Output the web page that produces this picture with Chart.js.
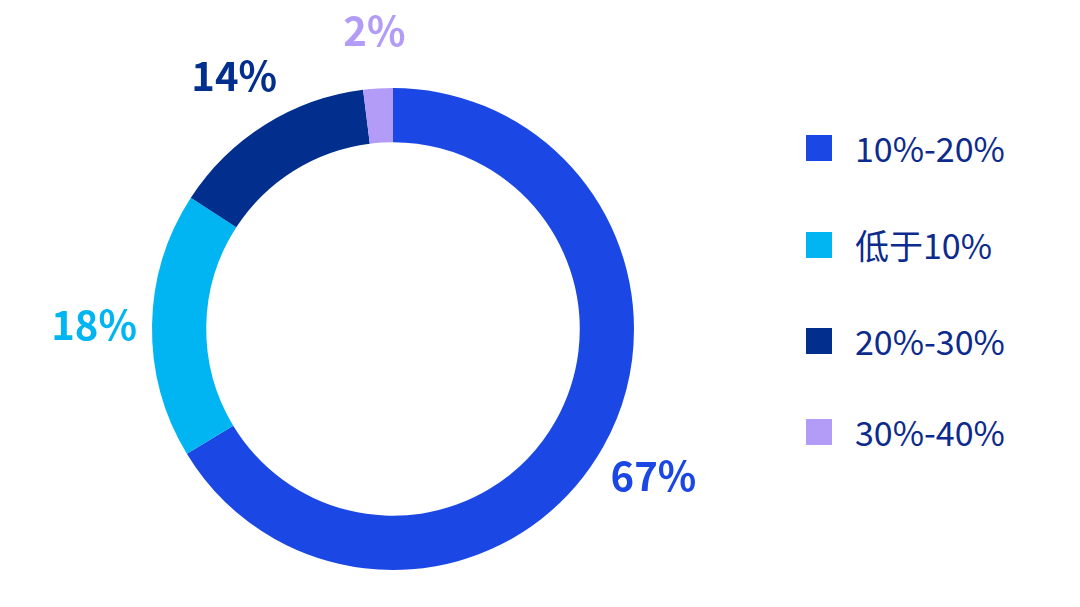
<!DOCTYPE html>
<html><head><meta charset="utf-8">
<script src="https://cdn.jsdelivr.net/npm/chart.js@4/dist/chart.umd.min.js"></script>
<style>
body{margin:0;background:#fff;width:1080px;height:607px;overflow:hidden;position:relative;font-family:"Noto Sans CJK SC","Noto Sans",sans-serif}
#wrap{position:absolute;left:0;top:0;width:786px;height:607px}
#legend{position:absolute;left:806px;top:0}
.item{position:absolute;left:0;display:flex;align-items:center;white-space:nowrap;color:#0d2b8c;font-size:34px}
.sw{width:26px;height:26px;margin-right:23px}
</style></head><body>
<div id="wrap"><canvas id="c"></canvas></div>
<div id="legend"></div>
<script>
const labels = ['10%-20%', '低于10%', '20%-30%', '30%-40%'];
const values = [67, 18, 14, 2];
const valueLabels = ['67%', '18%', '14%', '2%'];
const colors = ['#1b48e4', '#00b5f1', '#022f8e', '#b39cf7'];

const legendTops = [148, 245, 341, 432];
const legend = document.getElementById('legend');
labels.forEach((l, i) => {
    const d = document.createElement('div');
    d.className = 'item';
    d.style.top = (legendTops[i] - 25) + 'px';
    d.innerHTML = '<span class="sw" style="background:' + colors[i] + '"></span><span>' + l + '</span>';
    legend.appendChild(d);
});

const outerLabels = {
    id: 'outerLabels',
    afterDatasetsDraw(chart) {
        const ctx = chart.ctx;
        const meta = chart.getDatasetMeta(0);
        ctx.save();
        ctx.font = 'bold 40px "Noto Sans CJK SC", "Noto Sans", sans-serif';
        ctx.textAlign = 'center';
        ctx.textBaseline = 'middle';
        meta.data.forEach((arc, i) => {
            const p = arc.getProps(['x', 'y', 'startAngle', 'endAngle', 'outerRadius'], true);
            const a = (p.startAngle + p.endAngle) / 2;
            const r = p.outerRadius + 58;
            ctx.fillStyle = colors[i];
            ctx.fillText(valueLabels[i], p.x + Math.cos(a) * r, p.y + Math.sin(a) * r);
        });
        ctx.restore();
    }
};

new Chart(document.getElementById('c'), {
    type: 'doughnut',
    data: { labels, datasets: [{ data: values, backgroundColor: colors, borderWidth: 0 }] },
    options: {
        responsive: true,
        maintainAspectRatio: false,
        animation: false,
        cutout: '77.5%',
        layout: { padding: { top: 88, bottom: 37 } },
        plugins: { legend: { display: false }, tooltip: { enabled: false } }
    },
    plugins: [outerLabels]
});
</script>
</body></html>
